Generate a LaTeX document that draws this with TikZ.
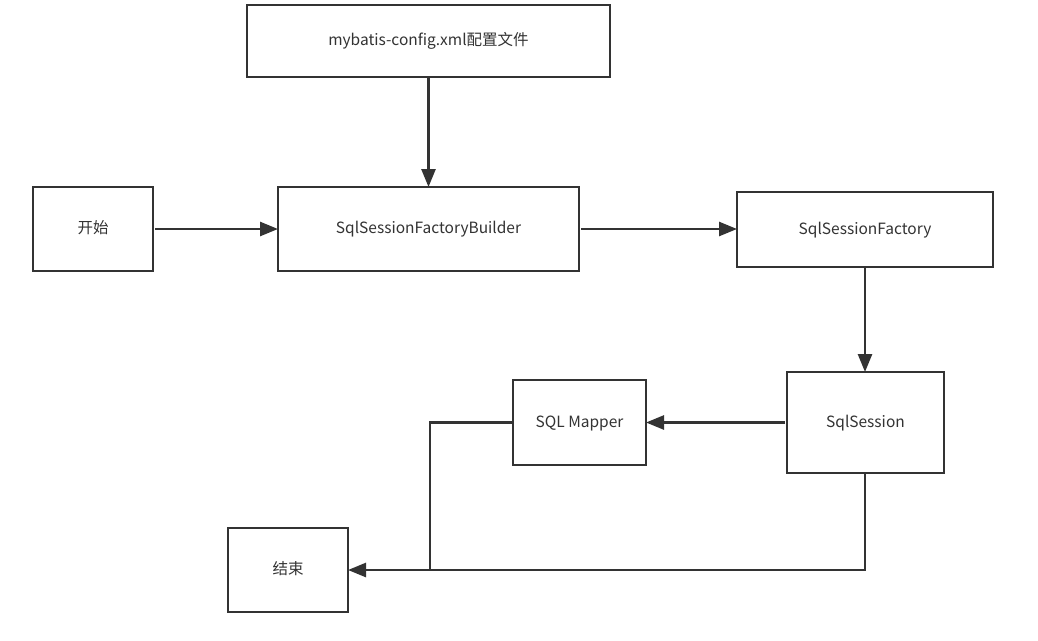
\documentclass[tikz,border=0pt]{standalone}
\usepackage{fontspec}
\setmainfont{Noto Sans CJK SC}
\usetikzlibrary{arrows.meta}
\definecolor{ink}{HTML}{333333}
\tikzset{
  box/.style={draw=ink, line width=2.6pt, text=ink, font=\fontsize{15.5}{18}\selectfont,
    inner sep=0pt, outer sep=0pt, text depth=0pt, text height=9pt},
  flow/.style={draw=ink, line width=2.6pt, -{Triangle[length=18pt,width=14pt]}},
  plain/.style={draw=ink, line width=2.6pt},
}
\begin{document}
\begin{tikzpicture}[x=1pt, y=-1pt]
  \useasboundingbox[fill=white] (0,0) rectangle (1038,640);
  % boxes: centre, width, height
  \node[box, minimum width=363pt, minimum height=72pt] (cfg) at (428.5,41) {mybatis-config.xml配置文件};
  \node[box, minimum width=120pt, minimum height=84pt] (start) at (93,229) {开始};
  \node[box, minimum width=301pt, minimum height=84pt] (builder) at (428.5,229) {SqlSessionFactoryBuilder};
  \node[box, minimum width=256pt, minimum height=75pt] (factory) at (865,229.5) {SqlSessionFactory};
  \node[box, minimum width=157pt, minimum height=101pt] (session) at (865.5,422.5) {SqlSession};
  \node[box, minimum width=133pt, minimum height=85pt] (mapper) at (579.5,422.5) {SQL Mapper};
  \node[box, minimum width=120pt, minimum height=84pt] (end) at (288,570) {结束};
  % junction points of the return paths
  \coordinate (mbend) at (430,422.5);
  \coordinate (mjoin) at (430,570);
  \coordinate (sbend) at (865,570);
  % connectors
  \draw[flow] (cfg.south) -- (builder.south |- builder.north);
  \draw[flow, shorten <=2pt] (start.east) -- (builder.west);
  \draw[flow, shorten <=2pt] (builder.east) -- (factory.west |- builder.east);
  \draw[flow] (factory.south) -- (factory.south |- session.north);
  \draw[flow, shorten <=2pt] (session.west) -- (mapper.east);
  \draw[plain, line join=miter] (mapper.west) -- (mbend) -- (mjoin);
  \draw[flow, line join=miter] (session.south -| sbend) -- (sbend) -- (end.east);
\end{tikzpicture}
\end{document}
